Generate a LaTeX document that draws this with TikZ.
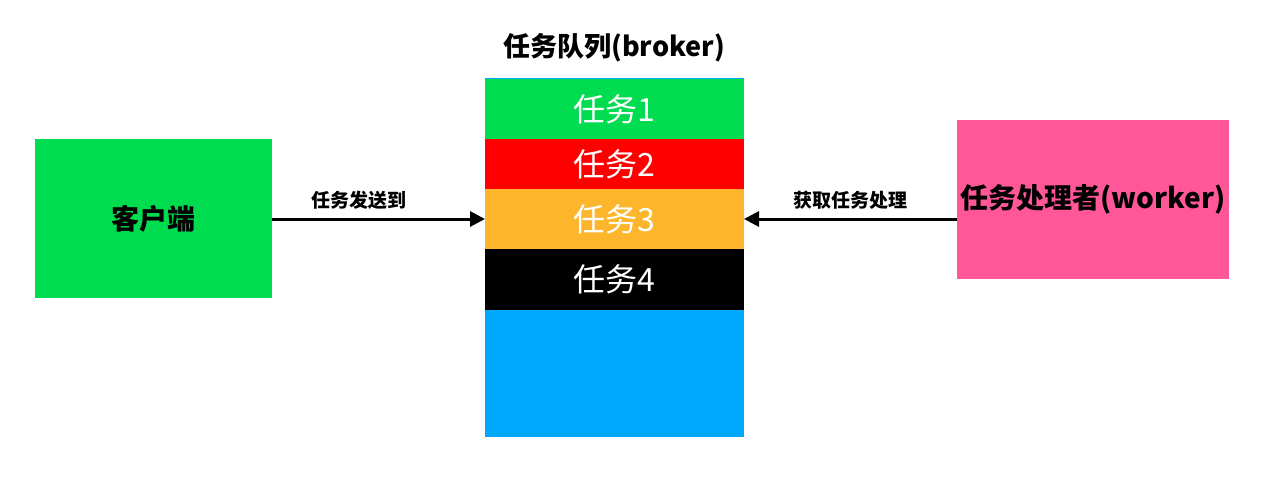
\documentclass[tikz,border=0pt]{standalone}
\usepackage{fontspec}
\setmainfont{Noto Sans CJK SC}
\usetikzlibrary{positioning,arrows.meta}
\definecolor{taskgreen}{HTML}{00DC4F}
\definecolor{taskred}{HTML}{FF0000}
\definecolor{taskorange}{HTML}{FDB52B}
\definecolor{queueblue}{HTML}{00A8FF}
\definecolor{workerpink}{HTML}{FF5797}
\begin{document}
\begin{tikzpicture}[x=1pt, y=-1pt,
        box/.style = {rectangle, inner sep=0pt, outer sep=0pt, font=\fontsize{28}{30}\selectfont\bfseries},
        task/.style = {rectangle, inner sep=0pt, outer sep=0pt, minimum width=259pt, text=white, font=\fontsize{32}{34}\selectfont},
        link/.style = {line width=3pt, -{Triangle[length=15pt,width=15pt]}},
        tag/.style = {font=\fontsize{19}{21}\selectfont\bfseries}]
    \useasboundingbox (0,0) rectangle (1267,491);

    \node[box, fill=taskgreen, minimum width=237pt, minimum height=159pt] (client) at (153.5,218.5) {客户端};
    \node[box, fill=workerpink, minimum width=272pt, minimum height=159pt] (worker) at (1093,199.5) {任务处理者(worker)};

    % queue and its tasks
    \node[task, fill=queueblue, minimum height=359pt] (queue) at (614.5,257.5) {};
    \node[task, fill=taskgreen, minimum height=60pt, below=1pt of queue.north] (t1) {任务1};
    \node[task, fill=taskred, minimum height=50pt, below=0pt of t1] (t2) {任务2};
    \node[task, fill=taskorange, minimum height=60pt, below=0pt of t2] (t3) {任务3};
    \node[task, fill=black, minimum height=61pt, below=0pt of t3] (t4) {任务4};
    \node[font=\fontsize{27}{29}\selectfont\bfseries] (title) at (614,48) {任务队列(broker)};

    \draw[link] (client.east |- t3.west) -- node[tag, pos=.41, above=5pt] (send) {任务发送到} (t3.west);
    \draw[link] (worker.west |- t3.east) -- node[tag, pos=.5, above=5pt] (fetch) {获取任务处理} (t3.east);
\end{tikzpicture}
\end{document}
